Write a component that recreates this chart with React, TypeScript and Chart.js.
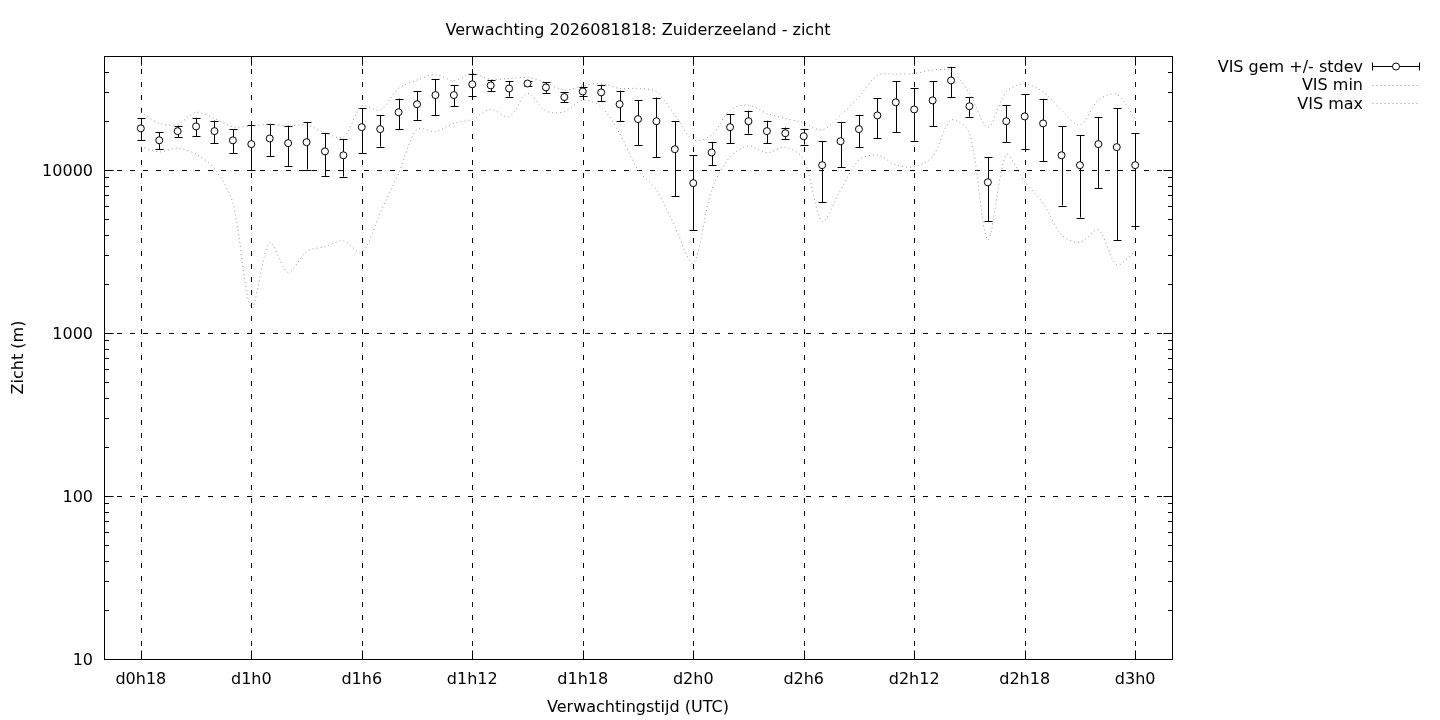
import React, { useEffect, useRef } from "react";
import { Chart, registerables } from "chart.js";

Chart.register(...registerables);

// Forecast hours since d0h0
const HOURS = [
  18, 19, 20, 21, 22, 23, 24, 25, 26, 27, 28, 29, 30, 31, 32, 33, 34, 35, 36,
  37, 38, 39, 40, 41, 42, 43, 44, 45, 46, 47, 48, 49, 50, 51, 52, 53, 54, 55,
  56, 57, 58, 59, 60, 61, 62, 63, 64, 65, 66, 67, 68, 69, 70, 71, 72,
];

const VIS_MEAN = [
  18000, 15200, 17300, 18500, 17300, 15200, 14400, 15600, 14600, 14800, 13000,
  12300, 18300, 17800, 22600, 25300, 28800, 28800, 33500, 33000, 31600, 33900,
  32100, 28000, 30300, 29900, 25300, 20500, 19900, 13400, 8300, 12800, 18300,
  19900, 17300, 16800, 16100, 10700, 15000, 17800, 21600, 26000, 23500, 26700,
  35400, 24600, 8400, 19900, 21300, 19300, 12300, 10700, 14400, 13800, 10700,
];

const VIS_SD = [
  2800, 1800, 1400, 2400, 2750, 2550, 4430, 3450, 4100, 4750, 3800, 3200, 5600,
  3900, 4800, 5000, 7100, 4200, 5150, 2700, 3400, 1350, 2400, 1950, 1800, 3400,
  5350, 6300, 7900, 6500, 4000, 2070, 3700, 3200, 2750, 1400, 1800, 4350, 4600,
  4000, 5900, 8950, 8400, 8200, 7450, 3400, 3550, 5150, 7800, 8000, 6250, 5600,
  6700, 10100, 6150,
];

const VIS_MIN = [
  13900, 12900, 13600, 12500, 10200, 6250, 1420, 3590, 2350, 3160, 3390, 3670,
  3120, 5450, 9540, 17750, 17160, 19300, 20450, 23540, 21200, 29500, 22970,
  22760, 26840, 24400, 16770, 10000, 7540, 4500, 2680, 7540, 12060, 14030,
  12760, 13770, 11630, 4830, 7540, 11510, 12350, 10730, 10470, 12060, 20240,
  16770, 3730, 12350, 8480, 6250, 4000, 3590, 4290, 2620, 3160,
];

const VIS_MAX = [
  22760, 19300, 19100, 22560, 20700, 18400, 18600, 19100, 18600, 18850, 16900,
  15860, 24650, 23300, 31630, 35580, 38560, 35200, 39060, 35900, 36400, 36900,
  34450, 30900, 32800, 33940, 31630, 31630, 30170, 21720, 15260, 16380, 23300,
  25000, 22220, 20700, 19480, 17580, 21720, 28100, 38150, 38700, 39060, 40960,
  40500, 29500, 18250, 30170, 33600, 30170, 23300, 18850, 26840, 29070, 20700,
];

const X_TICKS = [18, 24, 30, 36, 42, 48, 54, 60, 66, 72];
const X_TICK_LABELS = [
  "d0h18", "d1h0", "d1h6", "d1h12", "d1h18", "d2h0", "d2h6", "d2h12", "d2h18", "d3h0",
];
const Y_TICKS = [10, 100, 1000, 10000];
const Y_TICK_LABELS = ["10", "100", "1000", "10000"];

const TITLE = "Verwachting 2026081818: Zuiderzeeland - zicht";
const X_TITLE = "Verwachtingstijd (UTC)";
const Y_TITLE = "Zicht (m)";
const SERIES_LABELS = ["VIS gem +/- stdev", "VIS min", "VIS max"];

const FONT = '16px "DejaVu Sans", sans-serif';
const DOT_COLOR = "rgb(150,150,150)";
const DOT_DASH = [1, 3];
const GRID_DASH = [5, 8];
const TEXT_DY = 1.5;

const gnuPlugin = {
  id: "gnuplotLook",
  beforeDatasetsDraw(chart: any) {
    const { ctx, chartArea: a, scales } = chart;
    const x = scales.x;
    const y = scales.y;
    ctx.save();
    ctx.strokeStyle = "#000";
    ctx.lineWidth = 1;
    ctx.setLineDash(GRID_DASH);
    X_TICKS.forEach((v) => {
      const px = Math.round(x.getPixelForValue(v)) + 0.5;
      ctx.beginPath();
      ctx.moveTo(px, a.bottom);
      ctx.lineTo(px, a.top);
      ctx.stroke();
    });
    Y_TICKS.forEach((v) => {
      const py = Math.round(y.getPixelForValue(v)) + 0.5;
      if (py >= a.bottom - 1) return;
      ctx.beginPath();
      ctx.moveTo(a.left, py);
      ctx.lineTo(a.right, py);
      ctx.stroke();
    });
    ctx.setLineDash([]);
    // error bars
    HOURS.forEach((h, i) => {
      const px = Math.round(x.getPixelForValue(h)) + 0.5;
      const top = y.getPixelForValue(VIS_MEAN[i] + VIS_SD[i]);
      const bot = y.getPixelForValue(Math.max(VIS_MEAN[i] - VIS_SD[i], 10));
      ctx.beginPath();
      ctx.moveTo(px, top);
      ctx.lineTo(px, bot);
      ctx.moveTo(px - 4, Math.round(top) + 0.5);
      ctx.lineTo(px + 4, Math.round(top) + 0.5);
      ctx.moveTo(px - 4, Math.round(bot) + 0.5);
      ctx.lineTo(px + 4, Math.round(bot) + 0.5);
      ctx.stroke();
    });
    ctx.restore();
  },
  afterDatasetsDraw(chart: any) {
    const { ctx, chartArea: a, scales } = chart;
    const x = scales.x;
    const y = scales.y;
    const L = Math.round(a.left) + 0.5;
    const R = Math.round(a.right) + 0.5;
    const T = Math.round(a.top) + 0.5;
    const B = Math.round(a.bottom) + 0.5;
    ctx.save();
    ctx.strokeStyle = "#000";
    ctx.lineWidth = 1;
    ctx.setLineDash([]);
    ctx.strokeRect(L, T, R - L, B - T);
    // x major ticks (bottom + mirrored top)
    ctx.beginPath();
    X_TICKS.forEach((v) => {
      const px = Math.round(x.getPixelForValue(v)) + 0.5;
      ctx.moveTo(px, B);
      ctx.lineTo(px, B - 9);
      ctx.moveTo(px, T);
      ctx.lineTo(px, T + 9);
    });
    // y ticks major + minor (left + mirrored right)
    for (let d = 10; d <= 10000; d *= 10) {
      for (let m = 1; m <= 9; m++) {
        const v = d * m;
        if (v > 50000) break;
        const py = Math.round(y.getPixelForValue(v)) + 0.5;
        const len = m === 1 ? 9 : 4.5;
        ctx.moveTo(L, py);
        ctx.lineTo(L + len, py);
        ctx.moveTo(R, py);
        ctx.lineTo(R - len, py);
      }
    }
    ctx.stroke();

    ctx.fillStyle = "#000";
    ctx.font = FONT;
    // y tick labels
    ctx.textAlign = "right";
    ctx.textBaseline = "middle";
    Y_TICKS.forEach((v, i) => {
      ctx.fillText(Y_TICK_LABELS[i], a.left - 11, y.getPixelForValue(v) + TEXT_DY);
    });
    // x tick labels
    ctx.textAlign = "center";
    X_TICKS.forEach((v, i) => {
      ctx.fillText(X_TICK_LABELS[i], x.getPixelForValue(v), a.bottom + 19 + TEXT_DY);
    });
    const cx = (a.left + a.right) / 2;
    ctx.fillText(TITLE, cx, 29 + TEXT_DY);
    ctx.fillText(X_TITLE, cx, 706 + TEXT_DY);
    ctx.save();
    ctx.translate(17 + TEXT_DY, (a.top + a.bottom) / 2);
    ctx.rotate(-Math.PI / 2);
    ctx.fillText(Y_TITLE, 0, 0);
    ctx.restore();

    // legend
    const rows = [66, 84.5, 103];
    const tx = 1363;
    const s0 = 1372.5;
    const s1 = 1419.5;
    ctx.textAlign = "right";
    chart.data.datasets.forEach((ds: any, i: number) => {
      ctx.fillStyle = "#000";
      ctx.fillText(ds.label, tx, rows[i] + TEXT_DY);
    });
    // errorbar sample
    const r0 = Math.round(rows[0]) + 0.5;
    ctx.beginPath();
    ctx.moveTo(s0, r0);
    ctx.lineTo(s1, r0);
    ctx.moveTo(s0, r0 - 4);
    ctx.lineTo(s0, r0 + 4);
    ctx.moveTo(s1, r0 - 4);
    ctx.lineTo(s1, r0 + 4);
    ctx.stroke();
    ctx.beginPath();
    ctx.arc((s0 + s1) / 2, r0, 3.5, 0, Math.PI * 2);
    ctx.fillStyle = "#fff";
    ctx.fill();
    ctx.stroke();
    // dotted samples
    ctx.strokeStyle = DOT_COLOR;
    ctx.setLineDash(DOT_DASH);
    [rows[1], rows[2]].forEach((r) => {
      const rr = Math.round(r) + 0.5;
      ctx.beginPath();
      ctx.moveTo(s0, rr);
      ctx.lineTo(s1, rr);
      ctx.stroke();
    });
    ctx.restore();
  },
};

export default function App() {
  const ref = useRef<HTMLCanvasElement | null>(null);
  useEffect(() => {
    if (!ref.current) return;
    const toXY = (arr: number[]) => HOURS.map((h, i) => ({ x: h, y: arr[i] }));
    const chart = new Chart(ref.current, {
      type: "line",
      data: {
        datasets: [
          {
            label: SERIES_LABELS[0],
            data: toXY(VIS_MEAN),
            showLine: false,
            pointRadius: 3.5,
            pointHoverRadius: 3.5,
            pointBackgroundColor: "#fff",
            pointBorderColor: "#000",
            pointBorderWidth: 1,
            borderColor: "#000",
          },
          {
            label: SERIES_LABELS[1],
            data: toXY(VIS_MIN),
            borderColor: DOT_COLOR,
            borderWidth: 1,
            borderDash: DOT_DASH,
            pointRadius: 0,
            tension: 0.3,
            fill: false,
          },
          {
            label: SERIES_LABELS[2],
            data: toXY(VIS_MAX),
            borderColor: DOT_COLOR,
            borderWidth: 1,
            borderDash: DOT_DASH,
            pointRadius: 0,
            tension: 0.3,
            fill: false,
          },
        ],
      },
      options: {
        animation: false,
        responsive: false,
        devicePixelRatio: 1,
        layout: { padding: { left: 104, right: 268, top: 56, bottom: 61 } },
        plugins: {
          legend: { display: false },
          title: { display: false },
          tooltip: { enabled: false },
        },
        events: [],
        scales: {
          x: { type: "linear", min: 16, max: 74, display: false },
          y: { type: "logarithmic", min: 10, max: 50000, display: false },
        },
      },
      plugins: [gnuPlugin],
    });
    return () => chart.destroy();
  }, []);
  return (
    <div
      style={{
        position: "fixed",
        left: 0,
        top: 0,
        width: 1440,
        height: 720,
        background: "#fff",
      }}
    >
      <canvas ref={ref} width={1440} height={720} style={{ width: 1440, height: 720 }} />
    </div>
  );
}
